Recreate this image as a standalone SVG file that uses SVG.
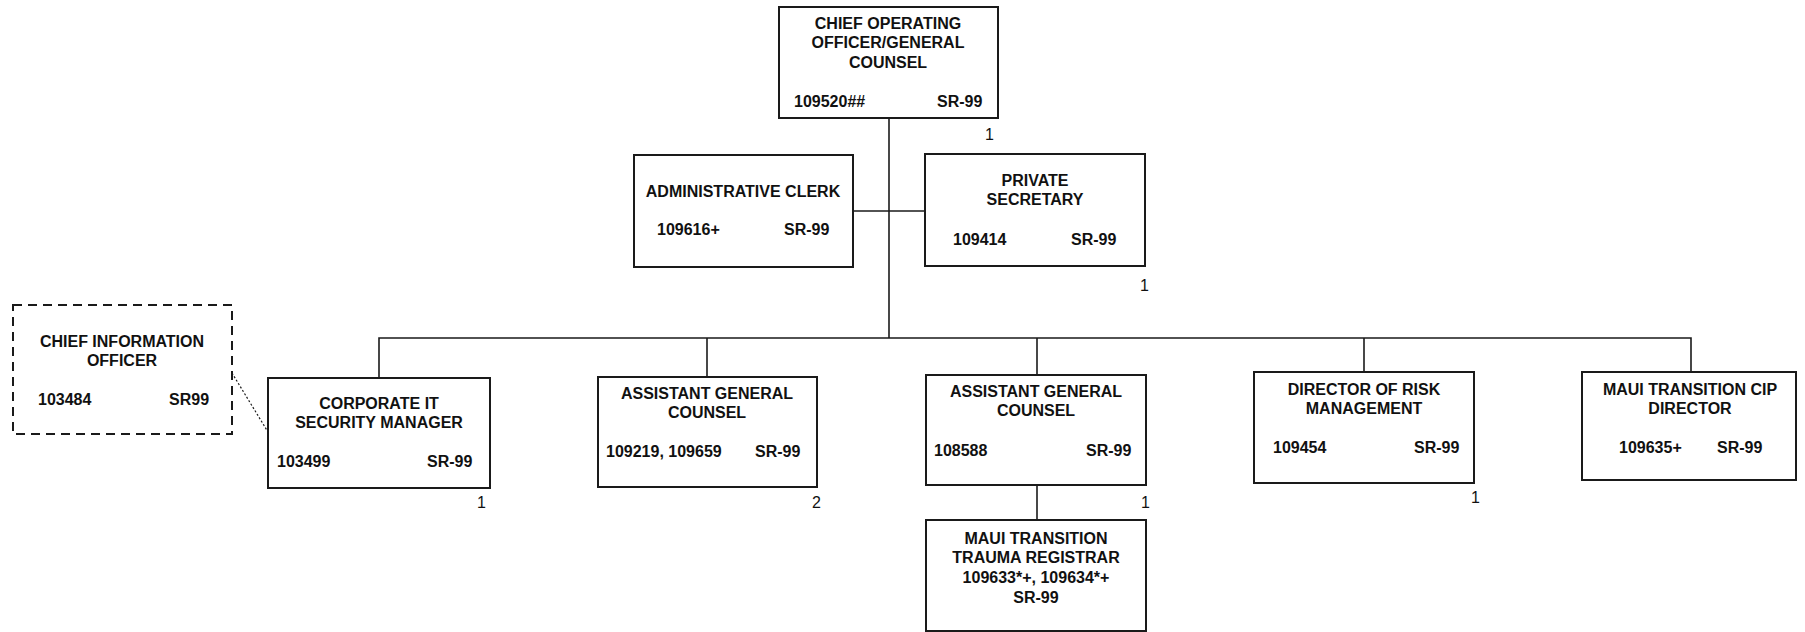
<svg xmlns="http://www.w3.org/2000/svg" width="1805" height="632" viewBox="0 0 1805 632">
<style>
.box{fill:#fff;stroke:#1a1a1a;stroke-width:2}
.dash{fill:#fff;stroke:#1a1a1a;stroke-width:2;stroke-dasharray:9 6}
.t{font-family:"Liberation Sans",Arial,sans-serif;font-weight:bold;font-size:16px;fill:#111}
.c{text-anchor:middle}
.n{font-family:"Liberation Sans",Arial,sans-serif;font-size:16px;fill:#111}
.ln{stroke:#1a1a1a;stroke-width:1.6;fill:none}
.dot{stroke:#1a1a1a;stroke-width:1.2;stroke-dasharray:2 2;fill:none}
</style>
<rect width="1805" height="632" fill="#fff"/>
<g id="connectors">
<path class="ln" d="M889 118V338"/>
<path class="ln" d="M853 211H925"/>
<path class="ln" d="M379 378V338H1691V372"/>
<path class="ln" d="M707 338V377"/>
<path class="ln" d="M1037 338V375"/>
<path class="ln" d="M1364 338V372"/>
<path class="ln" d="M1037 485V520"/>
<path class="dot" d="M232 373L268 432"/>
</g>
<g id="coo">
<rect class="box" x="779" y="7" width="219" height="111"/>
<text class="t c" x="888" y="29">CHIEF OPERATING</text>
<text class="t c" x="888" y="48">OFFICER/GENERAL</text>
<text class="t c" x="888" y="68">COUNSEL</text>
<text class="t" x="794" y="107">109520##</text>
<text class="t" x="937" y="107">SR-99</text>
<text class="n" x="985" y="140">1</text>
</g>
<g id="admin-clerk">
<rect class="box" x="634" y="155" width="219" height="112"/>
<text class="t c" x="743" y="197">ADMINISTRATIVE CLERK</text>
<text class="t" x="657" y="235">109616+</text>
<text class="t" x="784" y="235">SR-99</text>
</g>
<g id="private-secretary">
<rect class="box" x="925" y="154" width="220" height="112"/>
<text class="t c" x="1035" y="186">PRIVATE</text>
<text class="t c" x="1035" y="205">SECRETARY</text>
<text class="t" x="953" y="245">109414</text>
<text class="t" x="1071" y="245">SR-99</text>
<text class="n" x="1140" y="291">1</text>
</g>
<g id="cio">
<rect class="dash" x="13" y="305" width="219" height="129"/>
<text class="t c" x="122" y="347">CHIEF INFORMATION</text>
<text class="t c" x="122" y="366">OFFICER</text>
<text class="t" x="38" y="405">103484</text>
<text class="t" x="169" y="405">SR99</text>
</g>
<g id="corporate-it">
<rect class="box" x="268" y="378" width="222" height="110"/>
<text class="t c" x="379" y="409">CORPORATE IT</text>
<text class="t c" x="379" y="428">SECURITY MANAGER</text>
<text class="t" x="277" y="467">103499</text>
<text class="t" x="427" y="467">SR-99</text>
<text class="n" x="477" y="508">1</text>
</g>
<g id="asst-gc-1">
<rect class="box" x="598" y="377" width="219" height="110"/>
<text class="t c" x="707" y="399">ASSISTANT GENERAL</text>
<text class="t c" x="707" y="418">COUNSEL</text>
<text class="t" x="606" y="457">109219, 109659</text>
<text class="t" x="755" y="457">SR-99</text>
<text class="n" x="812" y="508">2</text>
</g>
<g id="asst-gc-2">
<rect class="box" x="926" y="375" width="220" height="110"/>
<text class="t c" x="1036" y="397">ASSISTANT GENERAL</text>
<text class="t c" x="1036" y="416">COUNSEL</text>
<text class="t" x="934" y="456">108588</text>
<text class="t" x="1086" y="456">SR-99</text>
<text class="n" x="1141" y="508">1</text>
</g>
<g id="maui-trauma">
<rect class="box" x="926" y="520" width="220" height="111"/>
<text class="t c" x="1036" y="544">MAUI TRANSITION</text>
<text class="t c" x="1036" y="563">TRAUMA REGISTRAR</text>
<text class="t c" x="1036" y="583">109633*+, 109634*+</text>
<text class="t c" x="1036" y="603">SR-99</text>
</g>
<g id="director-risk">
<rect class="box" x="1254" y="372" width="220" height="111"/>
<text class="t c" x="1364" y="395">DIRECTOR OF RISK</text>
<text class="t c" x="1364" y="414">MANAGEMENT</text>
<text class="t" x="1273" y="453">109454</text>
<text class="t" x="1414" y="453">SR-99</text>
<text class="n" x="1471" y="503">1</text>
</g>
<g id="maui-cip">
<rect class="box" x="1582" y="372" width="214" height="108"/>
<text class="t c" x="1690" y="395">MAUI TRANSITION CIP</text>
<text class="t c" x="1690" y="414">DIRECTOR</text>
<text class="t" x="1619" y="453">109635+</text>
<text class="t" x="1717" y="453">SR-99</text>
</g>
</svg>
